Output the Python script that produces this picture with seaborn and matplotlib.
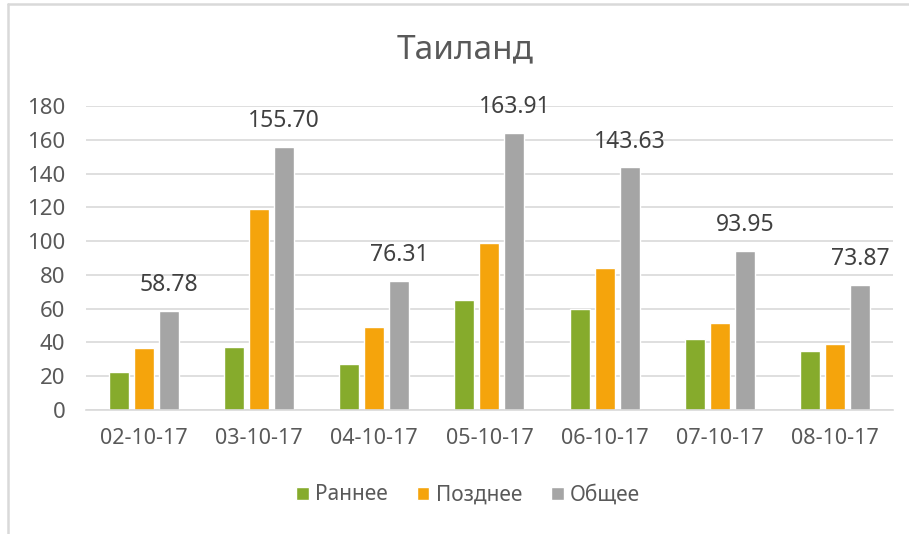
import matplotlib
matplotlib.use("Agg")
import matplotlib.pyplot as plt
import numpy as np
import pandas as pd
import seaborn as sns
from matplotlib.lines import Line2D

sns.set_style("white")
plt.rcParams['font.family'] = ['Noto Sans', 'DejaVu Sans']

dates = ["02-10-17", "03-10-17", "04-10-17", "05-10-17", "06-10-17", "07-10-17", "08-10-17"]
early = [22.5, 37.3, 27.2, 65.0, 59.8, 42.0, 35.2]
late = [36.7, 119.0, 49.0, 98.9, 84.0, 51.5, 39.0]
total = [58.78, 155.70, 76.31, 163.91, 143.63, 93.95, 73.87]
series_names = ["Раннее", "Позднее", "Общее"]
colors = ["#86AB2C", "#F5A40C", "#A5A5A5"]

TEXT = "#595959"
GRID = "#D9D9D9"

rows = []
for i, d in enumerate(dates):
    rows.append([d, series_names[0], early[i]])
    rows.append([d, series_names[1], late[i]])
    rows.append([d, series_names[2], total[i]])
df = pd.DataFrame(rows, columns=["date", "series", "value"])

fig = plt.figure(figsize=(9.09, 5.34), dpi=100)
ax = fig.add_axes([0.0946, 0.2322, 0.8877, 0.5693])

sns.barplot(data=df, x="date", y="value", hue="series", hue_order=series_names,
            palette=colors, width=0.65, gap=0.2, saturation=1, ax=ax)

ax.set_ylim(0, 180)
ax.set_xlim(-0.5, len(dates) - 0.5)
ax.set_yticks(np.arange(0, 181, 20))
ax.yaxis.grid(True, color=GRID, linewidth=1.2)
ax.set_axisbelow(True)
for s in ["top", "right", "left"]:
    ax.spines[s].set_visible(False)
ax.spines["bottom"].set_color(GRID)
ax.spines["bottom"].set_linewidth(1.2)

ax.tick_params(axis="y", length=0, pad=15, labelsize=16, labelcolor=TEXT)
ax.tick_params(axis="x", which="major", length=0, pad=13, labelsize=15.5, labelcolor=TEXT)
ax.set_xticks(np.arange(-0.5, len(dates), 1), minor=True)
ax.tick_params(axis="x", which="minor", length=7, width=1.2, color=GRID, direction="out")
ax.set_xlabel("")
ax.set_ylabel("")

# labels on the "Общее" bars
grey_bars = ax.containers[2]
ax.bar_label(grey_bars, labels=[f"{v:.2f}" for v in total], padding=10,
             fontsize=16.5, color="#404040")

fig.text(465 / 909, 1 - 50 / 534, "Таиланд", fontsize=24, color=TEXT,
         ha="center", va="center")

# legend centred on the chart area (like the title), not on the plot
ax.legend(loc="center", bbox_to_anchor=(468 / 909, 1 - 495 / 534),
          bbox_transform=fig.transFigure, ncol=3, frameon=False,
          fontsize=15, labelcolor=TEXT, handlelength=0.6, handleheight=0.6,
          handletextpad=0.3, columnspacing=1.4)

# chart border
fig.add_artist(Line2D([0.0088, 0.0088], [0, 0.992], color=GRID, linewidth=1.8))
fig.add_artist(Line2D([0.0088, 1.0], [0.992, 0.992], color=GRID, linewidth=1.8))

plt.savefig("out.png", dpi=100)
